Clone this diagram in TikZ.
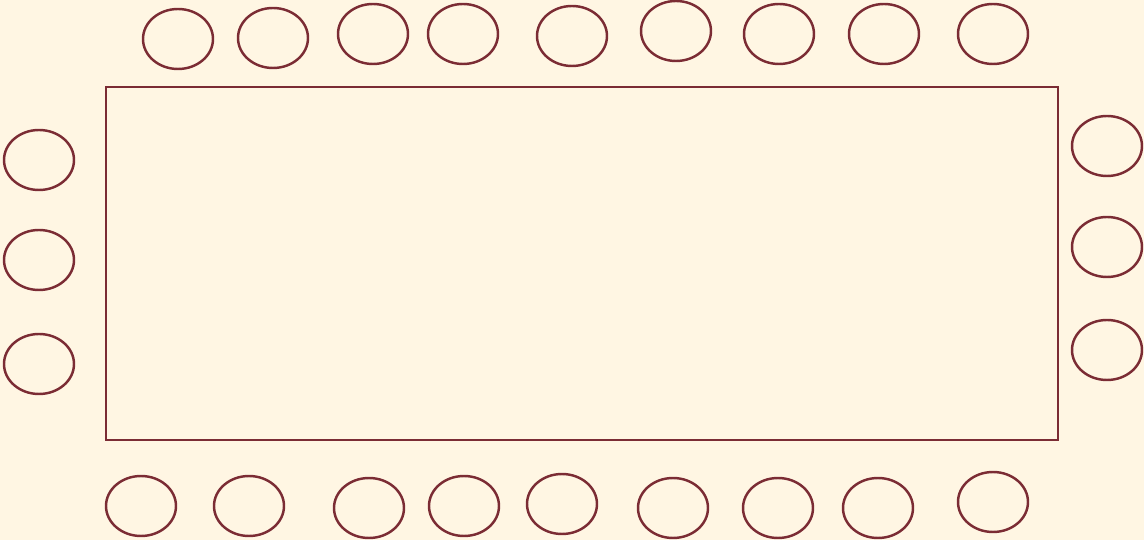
\documentclass[tikz,border=0pt]{standalone}
\usepackage{tikz}
\definecolor{cream}{HTML}{FFF6E3}
\definecolor{maroon}{HTML}{7B2C34}
\tikzset{
  chair/.style={draw=maroon,line width=1.4pt},
  tabletop/.style={draw=maroon,line width=1.4pt}
}
\begin{document}
\begin{tikzpicture}[x=0.02cm,y=-0.02cm]
\fill[cream] (0,0) rectangle (1144,540);
\useasboundingbox (0,0) rectangle (1144,540);
% table
\draw[tabletop] (106,87) rectangle (1058,440);
% chairs along the top
\foreach \x/\y in {178/39,273/38,373/34,463/34,572/36,676/31,779/34,884/34,993/34}
  \draw[chair] (\x,\y) ellipse (35 and 30);
% chairs at the ends
\foreach \y in {160,260,364}
  \draw[chair] (39,\y) ellipse (35 and 30);
\foreach \y in {146,247,350}
  \draw[chair] (1107,\y) ellipse (35 and 30);
% chairs along the bottom
\foreach \x/\y in {141/506,249/506,369/508,464/506,562/504,673/508,778/508,878/508,993/502}
  \draw[chair] (\x,\y) ellipse (35 and 30);
\end{tikzpicture}
\end{document}
